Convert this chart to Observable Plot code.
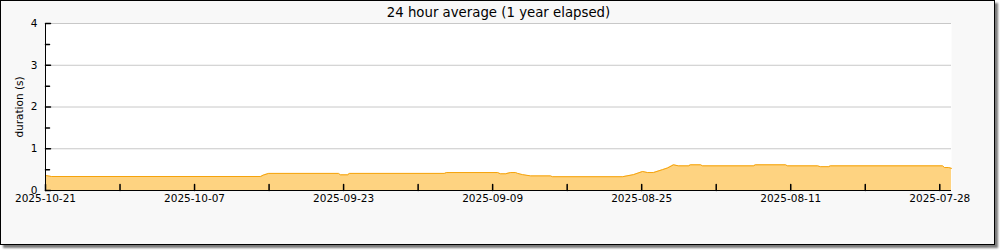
<!DOCTYPE html>
<html>
<head>
<meta charset="utf-8">
<script src="https://cdn.jsdelivr.net/npm/d3@7"></script>
<script src="https://cdn.jsdelivr.net/npm/@observablehq/plot@0.6"></script>
<style>
  html, body { margin: 0; padding: 0; background: #ffffff; }
  #frame {
    position: absolute; left: 0; top: 0;
    width: 993px; height: 243px;
    border: 1px solid #000;
    background: #f8f8f8;
    box-shadow: 3px 3px 2px #7a7a7a;
    font-family: "DejaVu Sans", sans-serif;
  }
</style>
</head>
<body>
<div id="frame"></div>
<script>
// ---- data ----
const times = [
  "2025-10-21T00:00Z","2025-10-20T10:30Z","2025-09-30T19:00Z","2025-09-30T12:30Z",
  "2025-09-30T01:00Z","2025-09-23T11:30Z","2025-09-23T07:00Z","2025-09-22T15:00Z",
  "2025-09-22T10:40Z","2025-09-13T12:30Z","2025-09-13T08:00Z","2025-09-08T13:00Z",
  "2025-09-08T06:15Z","2025-09-07T19:00Z","2025-09-07T07:40Z","2025-09-06T20:20Z",
  "2025-09-06T15:50Z","2025-09-06T04:30Z","2025-09-05T10:30Z","2025-09-03T13:30Z",
  "2025-09-03T09:00Z","2025-08-27T19:10Z","2025-08-26T18:30Z","2025-08-25T22:00Z",
  "2025-08-25T10:50Z","2025-08-24T21:20Z","2025-08-24T01:00Z","2025-08-23T13:40Z",
  "2025-08-23T00:15Z","2025-08-22T13:00Z","2025-08-21T14:25Z","2025-08-21T09:50Z",
  "2025-08-20T11:15Z","2025-08-20T06:40Z","2025-08-15T12:00Z","2025-08-15T07:30Z",
  "2025-08-12T11:45Z","2025-08-12T07:10Z","2025-08-09T11:30Z","2025-08-09T04:50Z",
  "2025-08-08T10:50Z","2025-08-08T06:15Z","2025-07-28T17:50Z","2025-07-28T13:15Z",
  "2025-07-28T04:20Z","2025-07-27T21:35Z"
];
const durations = [
  0.36, 0.335, 0.335, 0.37,
  0.41, 0.41, 0.375, 0.375,
  0.41, 0.41, 0.43, 0.43,
  0.40, 0.40, 0.43, 0.43,
  0.41, 0.38, 0.35, 0.35,
  0.33, 0.33, 0.38, 0.455,
  0.43, 0.43, 0.50, 0.54,
  0.615, 0.59, 0.59, 0.615,
  0.615, 0.59, 0.59, 0.615,
  0.615, 0.59, 0.59, 0.57,
  0.57, 0.59, 0.59, 0.55,
  0.55, 0.53
];
const xDomain = ["2025-07-27T21:35Z", "2025-10-21T00:00Z"];
const xTickTimes = ["2025-10-21T00:00Z","2025-10-07T00:00Z","2025-09-23T00:00Z","2025-09-09T00:00Z","2025-08-26T00:00Z","2025-08-12T00:00Z","2025-07-29T00:00Z"];
const xTickLabels = ["2025-10-21","2025-10-07","2025-09-23","2025-09-09","2025-08-25","2025-08-11","2025-07-28"];
const xMinorTickTimes = ["2025-10-14T00:00Z","2025-09-30T00:00Z","2025-09-16T00:00Z","2025-09-02T00:00Z","2025-08-19T00:00Z","2025-08-05T00:00Z"];
const yTicks = [0, 1, 2, 3, 4];
const yMinorTicks = [0.5, 1.5, 2.5, 3.5];
const gridLines = [1, 2, 3, 4];
const title = "24 hour average (1 year elapsed)";
const yLabel = "duration (s)";

// ---- build ----
const data = times.map((t, i) => ({date: new Date(t), value: durations[i]}));
const xTicks = xTickTimes.map(t => new Date(t));
const xMinor = xMinorTickTimes.map(t => new Date(t));
const labelOf = new Map(xTicks.map((d, i) => [+d, xTickLabels[i]]));

const line = "#f5a30c";
const fill = "#fed381";

const plot = Plot.plot({
  width: 993,
  height: 243,
  marginLeft: 44,
  marginRight: 43,
  marginTop: 22,
  marginBottom: 54,
  style: {background: "transparent", fontFamily: "DejaVu Sans, sans-serif", fontSize: "10px", color: "#000"},
  x: {type: "utc", domain: xDomain.map(t => new Date(t)), reverse: true},
  y: {domain: [0, 4]},
  marks: [
    Plot.frame({fill: "#ffffff", stroke: null}),
    Plot.ruleY(gridLines, {stroke: "#c8c8c8", strokeWidth: 1}),
    Plot.areaY(data, {x: "date", y: "value", fill: fill}),
    Plot.lineY(data, {x: "date", y: "value", stroke: line, strokeWidth: 1}),
    Plot.ruleY([0], {stroke: "#000"}),
    Plot.ruleX([new Date(xDomain[1])], {stroke: "#000"}),
    Plot.vectorY(yTicks, {y: d => d, frameAnchor: "left", rotate: 90, length: 5, anchor: "start", r: 0, stroke: "#000"}),
    Plot.vectorY(yMinorTicks, {y: d => d, frameAnchor: "left", rotate: 90, length: 4, anchor: "start", r: 0, stroke: "#000"}),
    Plot.vectorX(xTicks, {x: d => d, frameAnchor: "bottom", rotate: 0, length: 6, anchor: "start", r: 0, stroke: "#000"}),
    Plot.vectorX(xMinor, {x: d => d, frameAnchor: "bottom", rotate: 0, length: 6, anchor: "start", r: 0, stroke: "#000"}),
    Plot.axisY({ticks: yTicks, tickSize: 0, tickPadding: 8, tickFormat: d => String(d), label: null, fill: "#000", fontSize: 10.5}),
    Plot.axisX({ticks: xTicks, tickSize: 0, tickPadding: 4, tickFormat: d => labelOf.get(+d), label: null, fill: "#000", fontSize: 10.5}),
    Plot.text([yLabel], {text: d => d, frameAnchor: "left", dx: -26, rotate: -90, textAnchor: "middle", lineAnchor: "middle", fontSize: 10.5, fill: "#000"}),
    Plot.text([title], {text: d => d, frameAnchor: "top", dy: -11, textAnchor: "middle", lineAnchor: "middle", fontSize: 13.3, fill: "#000"})
  ]
});
document.getElementById("frame").appendChild(plot);
</script>
</body>
</html>
